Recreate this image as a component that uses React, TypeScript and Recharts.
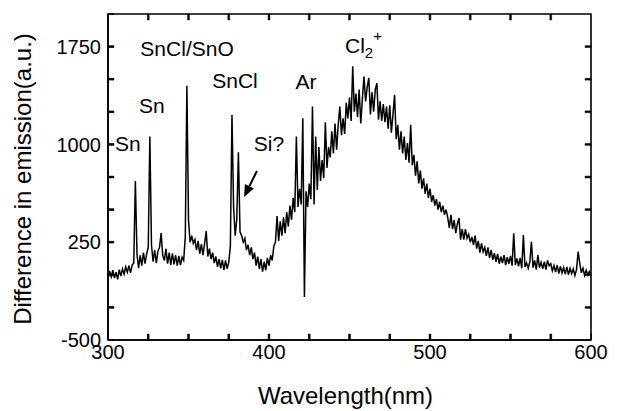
import React from 'react';
import { LineChart, Line, XAxis, YAxis, ReferenceDot, ReferenceLine, ReferenceArea } from 'recharts';

// Emission difference (a.u.), one value per nm from 300 nm to 600 nm
const emission: number[] = [
  -30, 30, -15, 35, -25, 20, -35, 40, -10, 45,
  5, 60, 20, 70, 15, 75, 90, 720, 160, 50,
  150, 70, 170, 85, 160, 210, 1060, 230, 100, 190,
  90, 180, 210, 320, 150, 110, 200, 85, 170, 75,
  165, 80, 150, 70, 145, 75, 135, 110, 290, 1450,
  420, 250, 300, 240, 270, 190, 260, 160, 235, 150,
  240, 335, 140, 200, 120, 170, 90, 140, 60, 120,
  50, 115, 35, 110, 45, 95, 220, 1225, 520, 300,
  430, 940, 330, 300, 250, 280, 190, 230, 150, 210,
  120, 170, 70, 140, 45, 120, 25, 100, 35, 130,
  70, 150, 110, 220, 250, 450, 260, 410, 300, 440,
  320, 480, 370, 530, 420, 590, 480, 1060, 520, 660,
  540, 1200, -170, 640, 520, 700, 580, 1290, 540, 1060,
  650, 980, 720, 880, 740, 1170, 820, 980, 900, 1100,
  930, 1160, 960, 1150, 1290, 1070, 1200, 1080, 1320, 1200,
  1360, 1180, 1600, 1250, 1390, 1210, 1420, 1160, 1350, 1520,
  1330, 1440, 1510, 1230, 1400, 1250, 1420, 1470, 1190, 1330,
  1180, 1310, 1170, 1290, 1120, 1300, 1090, 1230, 1380, 1040,
  1150, 960, 1100, 930, 1060, 880, 1010, 860, 1150, 840,
  920, 760, 870, 700, 800, 660, 740, 620, 700, 590,
  660, 560, 610, 530, 580, 500, 560, 480, 530, 460,
  500, 440, 360, 460, 350, 420, 320, 390, 435, 270,
  350, 270, 350, 280, 310, 250, 290, 230, 300, 200,
  260, 170, 240, 175, 210, 145, 210, 130, 190, 115,
  165, 100, 160, 85, 140, 90, 150, 75, 135, 85,
  145, 70, 318, 75, 125, 65, 130, 50, 305, 60,
  90, 50, 100, 254, 55, 110, 40, 152, 55, 95,
  45, 100, 40, 110, 70, 85, 30, 70, 20, 75,
  10, 65, 15, 55, 5, 60, 0, 50, 10, 45,
  -5, 40, 177, 90, 15, 50, -5, 35, 0, 25,
  -5,
];
const WL_START = 300;

const xTicks = [300, 325, 350, 375, 400, 425, 450, 475, 500, 525, 550, 575, 600];
const xLabeled = [300, 400, 500, 600];
const yTicks = [-500, -250, 0, 250, 500, 750, 1000, 1250, 1500, 1750, 2000];
const yLabeled = [-500, 250, 1000, 1750];
const X_MIN = 300;
const X_MAX = 600;
const Y_MIN = -500;
const Y_MAX = 2000;

const annotations = [
  { text: 'Sn', nm: 312.4, y: 1011 },
  { text: 'Sn', nm: 327.3, y: 1302 },
  { text: 'SnCl/SnO', nm: 349.1, y: 1739 },
  { text: 'SnCl', nm: 378.9, y: 1494 },
  { text: 'Si?', nm: 400, y: 1011 },
  { text: 'Ar', nm: 423, y: 1486 },
];
const cl2Label = { nm: 447.2, y: 1701 };
const arrowSeg = [{ x: 392.5, y: 796 }, { x: 384.5, y: 597 }];

const data = emission.map((v, i) => ({ nm: WL_START + i, v }));

// layout
const W = 618;
const H = 411;
const M = { top: 14, right: 27, bottom: 0, left: 0 };
const Y_AXIS_W = 108;
const X_AXIS_H = 71;

const FONT = '"Liberation Sans", Arial, Helvetica, sans-serif';
const TICK = 6;
const FRAME_W = 1.6;
// tick-mark size expressed in axis units (about 6 px long, 1.8 px wide)
const TICK_LEN_X = 3.7;
const TICK_LEN_Y = 46;
const TICK_HALF_X = 0.56;
const TICK_HALF_Y = 7;

const innerXTicks = xTicks.slice(1, -1);
const innerYTicks = yTicks.slice(1, -1);

// labels only; tick marks are drawn separately
const BottomTick = (props: any) => {
  const { x, y, payload } = props;
  const v = Number(payload.value);
  if (!xLabeled.includes(v)) return <g />;
  return (
    <text x={x} y={Number(y) + 19} textAnchor="middle" fontSize={20} fontFamily={FONT} fill="#000">
      {payload.value}
    </text>
  );
};

const LeftTick = (props: any) => {
  const { x, y, payload } = props;
  const v = Number(payload.value);
  if (!yLabeled.includes(v)) return <g />;
  return (
    <text x={Number(x) - 7} y={y} dy="0.36em" textAnchor="end" fontSize={20} fontFamily={FONT} fill="#000">
      {payload.value}
    </text>
  );
};

const YLabel = (props: any) => {
  const vb = props.viewBox;
  const cx = 22;
  const cy = vb.y + vb.height / 2 + 2;
  return (
    <text x={cx} y={cy} dy="0.36em" transform={`rotate(-90 ${cx} ${cy})`} textAnchor="middle" fontSize={24} fontFamily={FONT} fill="#000">
      Difference in emission(a.u.)
    </text>
  );
};

const XLabel = (props: any) => {
  const vb = props.viewBox;
  return (
    <text x={vb.x + vb.width / 2 - 4} y={vb.y + 64} textAnchor="middle" fontSize={24} fontFamily={FONT} fill="#000">
      Wavelength(nm)
    </text>
  );
};

const textShape = (text: string) => (props: any) => (
  <text x={props.cx} y={props.cy} dy="0.36em" textAnchor="middle" fontSize={21} fontFamily={FONT} fill="#000">
    {text}
  </text>
);

const ClShape = (props: any) => (
  <text x={props.cx} y={props.cy} fontSize={21} fontFamily={FONT} fill="#000">
    <tspan>Cl</tspan>
    <tspan fontSize={15} dy={5}>2</tspan>
    <tspan fontSize={15} dy={-17}>+</tspan>
  </text>
);

const ArrowShape = (props: any) => {
  const { x1, y1, x2, y2 } = props;
  const ang = Math.atan2(y2 - y1, x2 - x1);
  const L = 12;
  const HW = 5;
  const bx = x2 - L * Math.cos(ang);
  const by = y2 - L * Math.sin(ang);
  const px = -Math.sin(ang) * HW;
  const py = Math.cos(ang) * HW;
  return (
    <g>
      <line x1={x1} y1={y1} x2={bx} y2={by} stroke="#000" strokeWidth={2} />
      <polygon points={`${x2},${y2} ${bx + px},${by + py} ${bx - px},${by - py}`} fill="#000" />
    </g>
  );
};

export default function App() {
  return (
    <div style={{ position: 'absolute', left: 0, top: 0, background: '#fff' }}>
      <LineChart width={W} height={H} data={data} margin={M}>
        <XAxis
          dataKey="nm"
          type="number"
          domain={[X_MIN, X_MAX]}
          ticks={xTicks}
          interval={0}
          tickSize={-TICK}
          tickMargin={TICK}
          tick={<BottomTick />}
          axisLine={{ stroke: '#000', strokeWidth: FRAME_W }}
          tickLine={{ stroke: '#000', strokeWidth: 1.6 }}
          height={X_AXIS_H}
          label={<XLabel />}
        />
        <YAxis
          type="number"
          domain={[Y_MIN, Y_MAX]}
          ticks={yTicks}
          interval={0}
          tickSize={-TICK}
          tickMargin={TICK}
          tick={<LeftTick />}
          axisLine={{ stroke: '#000', strokeWidth: FRAME_W }}
          tickLine={{ stroke: '#000', strokeWidth: 1.6 }}
          width={Y_AXIS_W}
          label={<YLabel />}
        />
        <ReferenceArea
          x1={X_MIN}
          x2={X_MAX}
          y1={Y_MIN}
          y2={Y_MAX}
          fill="none"
          fillOpacity={0}
          stroke="#000"
          strokeWidth={FRAME_W}
          strokeOpacity={1}
          ifOverflow="visible"
        />
        {innerXTicks.map((t) => (
          <ReferenceArea key={'tt' + t} x1={t - TICK_HALF_X} x2={t + TICK_HALF_X} y1={Y_MAX - TICK_LEN_Y} y2={Y_MAX} fill="#000" fillOpacity={1} stroke="#000" strokeOpacity={1} strokeWidth={0.5} ifOverflow="visible" />
        ))}
        {innerXTicks.map((t) => (
          <ReferenceArea key={'tb' + t} x1={t - TICK_HALF_X} x2={t + TICK_HALF_X} y1={Y_MIN} y2={Y_MIN + TICK_LEN_Y} fill="#000" fillOpacity={1} stroke="#000" strokeOpacity={1} strokeWidth={0.5} ifOverflow="visible" />
        ))}
        {innerYTicks.map((t) => (
          <ReferenceArea key={'tr' + t} x1={X_MAX - TICK_LEN_X} x2={X_MAX} y1={t - TICK_HALF_Y} y2={t + TICK_HALF_Y} fill="#000" fillOpacity={1} stroke="#000" strokeOpacity={1} strokeWidth={0.5} ifOverflow="visible" />
        ))}
        {innerYTicks.map((t) => (
          <ReferenceArea key={'tl' + t} x1={X_MIN} x2={X_MIN + TICK_LEN_X} y1={t - TICK_HALF_Y} y2={t + TICK_HALF_Y} fill="#000" fillOpacity={1} stroke="#000" strokeOpacity={1} strokeWidth={0.5} ifOverflow="visible" />
        ))}
        <Line
          type="linear"
          dataKey="v"
          stroke="#000"
          strokeWidth={1.5}
          dot={false}
          activeDot={false}
          isAnimationActive={false}
        />
        {annotations.map((a, i) => (
          <ReferenceDot key={i} x={a.nm} y={a.y} r={0} shape={textShape(a.text)} ifOverflow="visible" />
        ))}
        <ReferenceDot x={cl2Label.nm} y={cl2Label.y} r={0} shape={<ClShape />} ifOverflow="visible" />
        <ReferenceLine segment={arrowSeg} shape={<ArrowShape />} ifOverflow="visible" />
      </LineChart>
    </div>
  );
}
